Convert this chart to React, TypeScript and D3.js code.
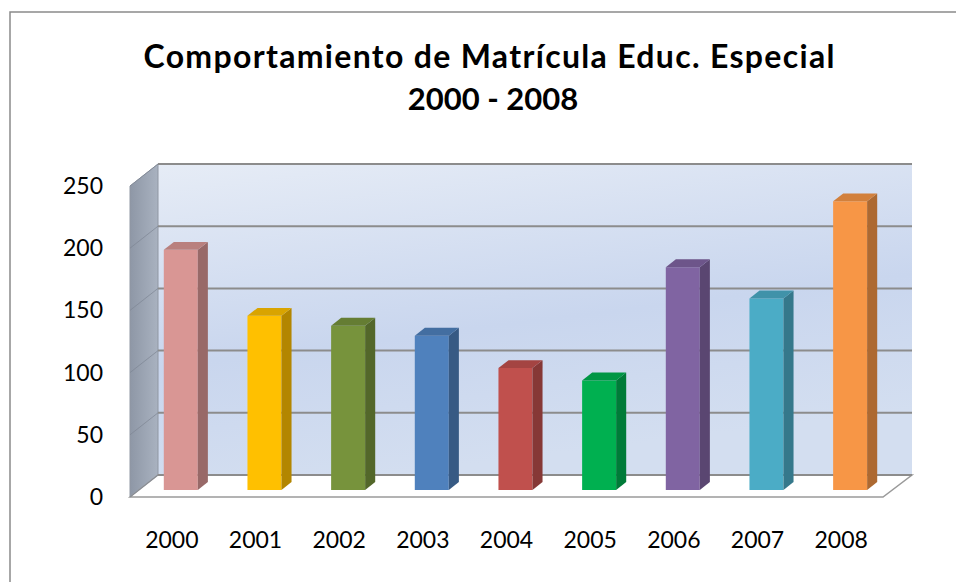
import React from 'react';
import * as d3 from 'd3';

const years = ['2000', '2001', '2002', '2003', '2004', '2005', '2006', '2007', '2008'];
const values = [193, 140, 132, 124, 98, 88, 179, 154, 232];
const frontColors = ['#D99694', '#FFC000', '#77933C', '#4F81BD', '#C0504D', '#00B050', '#8064A2', '#4BACC6', '#F79646'];
const yTicks = [0, 50, 100, 150, 200, 250];
const titleLines = ['Comportamiento de Matrícula Educ. Especial', '2000 - 2008'];

// geometry of the 3D box
const floorLeft = 130;
const floorRight = 883;
const floorFront = 497;
const depthX = 28;
const depthY = 22;
const wallHeight = 311;
const barWidth = 34;
const f1 = 0.32;
const f2 = 0.68;

const x = d3.scaleBand<string>().domain(years).range([floorLeft, floorRight]);
const y = d3.scaleLinear().domain([0, 250]).range([0, wallHeight]);

// project a point (front-edge x, depth fraction, value) to screen
const project = (px: number, depth: number, v: number): [number, number] => [
  px + depth * depthX,
  floorFront - depth * depthY - y(v),
];

const poly = (pts: [number, number][]) => 'M' + pts.map(p => p.join(',')).join('L') + 'Z';

export default function App() {
  const font = 'Lato, "Open Sans", sans-serif';
  const backL = floorLeft + depthX;
  const backR = floorRight + depthX + 1;
  const backBottom = floorFront - depthY;

  return (
    <svg width={956} height={582} style={{ position: 'absolute', left: 0, top: 0, background: '#fff' }}>
      <defs>
        <linearGradient id="wall" x1="0" y1="0" x2="0.3" y2="1">
          <stop offset="0" stopColor="#E6ECF6" />
          <stop offset="0.6" stopColor="#C9D6EE" />
          <stop offset="1" stopColor="#D3DEF0" />
        </linearGradient>
        <linearGradient id="side" x1="0" y1="0" x2="1" y2="0">
          <stop offset="0" stopColor="#8E97A6" />
          <stop offset="1" stopColor="#A9B2C0" />
        </linearGradient>
      </defs>
      <rect x={10} y={12} width={980} height={600} fill="none" stroke="#8a8a8a" strokeWidth={1.5} />

      <text x={489} y={68} textAnchor="middle" fontFamily={font} fontWeight="bold" fontSize={32} fill="#000"
        textLength={691} lengthAdjust="spacing">
        {titleLines[0]}
      </text>
      <text x={493} y={110} textAnchor="middle" fontFamily={font} fontWeight="bold" fontSize={31} fill="#000">
        {titleLines[1]}
      </text>

      {/* back wall */}
      <rect x={backL} y={backBottom - wallHeight} width={backR - backL} height={wallHeight} fill="url(#wall)" />
      {/* left wall */}
      <path
        d={poly([
          [floorLeft, floorFront - wallHeight],
          [backL, backBottom - wallHeight],
          [backL, backBottom],
          [floorLeft, floorFront],
        ])}
        fill="url(#side)"
        stroke="#8f96a2"
        strokeWidth={1}
      />
      {/* floor */}
      <path
        d={poly([
          [floorLeft, floorFront],
          [backL, backBottom],
          [backR, backBottom],
          [floorRight, floorFront],
        ])}
        fill="#fff"
        stroke="#9a9a9a"
        strokeWidth={1.5}
      />

      {/* gridlines */}
      {yTicks.map(t => (
        <g key={t}>
          <line x1={backL} x2={backR} y1={backBottom - y(t)} y2={backBottom - y(t)} stroke="#8C8C8C" strokeWidth={2} />
          <line x1={floorLeft} x2={backL} y1={floorFront - y(t)} y2={backBottom - y(t)} stroke="#7e8694" strokeWidth={1} opacity={0.7} />
          <text x={103} y={floorFront - y(t) + 8} textAnchor="end" fontFamily={font} fontSize={23} fill="#000">
            {t}
          </text>
        </g>
      ))}

      {/* bars */}
      {years.map((yr, i) => {
        const v = values[i];
        const c = d3.color(frontColors[i])!;
        const cx = (x(yr) as number) + x.bandwidth() / 2;
        const b0 = cx - barWidth / 2;
        const b1 = cx + barWidth / 2;
        const front = poly([project(b0, f1, 0), project(b1, f1, 0), project(b1, f1, v), project(b0, f1, v)]);
        const side = poly([project(b1, f1, 0), project(b1, f2, 0), project(b1, f2, v), project(b1, f1, v)]);
        const top = poly([project(b0, f1, v), project(b1, f1, v), project(b1, f2, v), project(b0, f2, v)]);
        return (
          <g key={yr}>
            <path d={front} fill={c.formatHex()} />
            <path d={side} fill={c.darker(1.0).formatHex()} />
            <path d={top} fill={c.darker(0.45).formatHex()} />
          </g>
        );
      })}

      {/* category labels */}
      {years.map(yr => (
        <text key={yr} x={(x(yr) as number) + x.bandwidth() / 2} y={548} textAnchor="middle" fontFamily={font} fontSize={23} fill="#000">
          {yr}
        </text>
      ))}
    </svg>
  );
}
